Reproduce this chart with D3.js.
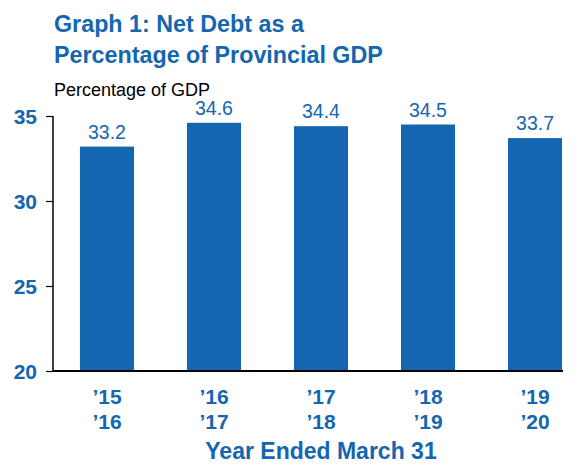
<!DOCTYPE html>
<html>
<head>
<meta charset="utf-8">
<script src="https://d3js.org/d3.v7.min.js"></script>
<style>
  body { margin: 0; background: #fff; }
  svg { display: block; font-family: "Liberation Sans", Arial, sans-serif; }
</style>
</head>
<body>
<svg width="578" height="464"></svg>
<script>
// data
var years = ["'15\n'16", "'16\n'17", "'17\n'18", "'18\n'19", "'19\n'20"];
var values = [33.2, 34.6, 34.4, 34.5, 33.7];
var yTicks = [20, 25, 30, 35];

var blue = '#1466b0';
var svg = d3.select('svg');

var x = d3.scaleBand()
    .domain(years)
    .range([53, 589])
    .paddingInner(0.495)
    .paddingOuter(0.252);

var y = d3.scaleLinear()
    .domain([20, 35])
    .range([371, 116]);

// title
svg.append('text')
    .attr('x', 54).attr('y', 32)
    .attr('fill', blue).attr('font-weight', 'bold').attr('font-size', 23.3)
    .text('Graph 1: Net Debt as a');
svg.append('text')
    .attr('x', 54).attr('y', 63)
    .attr('fill', blue).attr('font-weight', 'bold').attr('font-size', 23.3)
    .text('Percentage of Provincial GDP');
svg.append('text')
    .attr('x', 54).attr('y', 96)
    .attr('fill', '#000').attr('font-size', 18)
    .text('Percentage of GDP');

// bars
svg.append('g').selectAll('rect')
    .data(values)
    .enter().append('rect')
    .attr('x', function (d, i) { return x(years[i]); })
    .attr('y', function (d) { return y(d); })
    .attr('width', x.bandwidth())
    .attr('height', function (d) { return y(20) - y(d); })
    .attr('fill', blue);

svg.append('g').selectAll('text')
    .data(values)
    .enter().append('text')
    .attr('x', function (d, i) { return x(years[i]) + x.bandwidth() / 2; })
    .attr('y', function (d) { return y(d) - 8; })
    .attr('text-anchor', 'middle')
    .attr('fill', blue).attr('font-size', 19.5)
    .text(function (d) { return d.toFixed(1); });

// y axis
var yAxis = d3.axisLeft(y).tickValues(yTicks).tickSize(7).tickPadding(9);
var gy = svg.append('g')
    .attr('transform', 'translate(53,0)')
    .call(yAxis);
gy.select('.domain').attr('stroke', '#000').attr('stroke-width', 1.5)
    .attr('d', 'M0,' + y(35) + 'V' + y(20));
gy.selectAll('.tick line').attr('stroke', '#000').attr('stroke-width', 1.2);
gy.selectAll('.tick text')
    .attr('fill', blue).attr('font-weight', 'bold').attr('font-size', 21)
    .attr('font-family', '"Liberation Sans", Arial, sans-serif')
    .attr('dy', '0.36em');

// x axis line
svg.append('line')
    .attr('x1', 53).attr('x2', 563)
    .attr('y1', y(20)).attr('y2', y(20))
    .attr('stroke', '#000').attr('stroke-width', 2);

// x labels, two lines each
var xl = svg.append('g').selectAll('text')
    .data(years)
    .enter().append('text')
    .attr('text-anchor', 'middle')
    .attr('fill', blue).attr('font-weight', 'bold').attr('font-size', 21)
    .attr('transform', function (d) { return 'translate(' + (x(d) + x.bandwidth() / 2) + ',0)'; });
xl.selectAll('tspan')
    .data(function (d) { return d.split('\n'); })
    .enter().append('tspan')
    .attr('x', 0)
    .attr('y', function (d, i) { return 404 + i * 25; })
    .text(function (d) { return d.replace("'", '\u2019'); });

svg.append('text')
    .attr('x', 321).attr('y', 459)
    .attr('text-anchor', 'middle')
    .attr('fill', blue).attr('font-weight', 'bold').attr('font-size', 23)
    .text('Year Ended March 31');
</script>
</body>
</html>
